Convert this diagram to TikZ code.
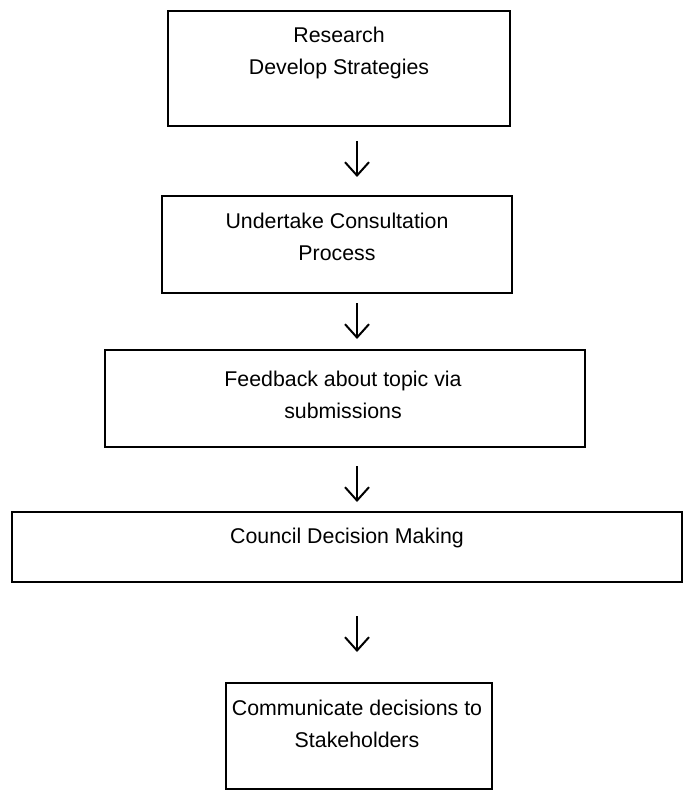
\documentclass[tikz,border=0pt]{standalone}
\usepackage{fontspec}
\setmainfont{Liberation Sans}
\usetikzlibrary{arrows.meta, fit}

\begin{document}
\begin{tikzpicture}[x=0.75pt, y=-0.75pt, line width=1.5pt,
  >={Straight Barb[length=10pt, width=18pt]},
  caja/.style={draw, rectangle, inner sep=0pt},
  texto/.style={align=center, inner sep=0pt, font=\fontsize{16}{24}\selectfont}]
  \useasboundingbox (0,0) rectangle (692,791);
  % cajas del proceso
  \node[caja, fit={(168,11) (510,126)}] (b1) {};
  \node[caja, fit={(162,196) (512,293)}] (b2) {};
  \node[caja, fit={(105,350) (585,447)}] (b3) {};
  \node[caja, fit={(12,512) (682,582)}] (b4) {};
  \node[caja, fit={(226,683) (492,789)}] (b5) {};
  % textos
  \node[texto] (t1) at (339,53) {Research\\Develop Strategies};
  \node[texto] (t2) at (337,237) {Undertake Consultation\\Process};
  \node[texto] (t3) at (343,395) {Feedback about topic via\\submissions};
  \node[texto] (t4) at (347,538) {Council Decision Making};
  \node[texto] (t5) at (357,724) {Communicate decisions to\\Stakeholders};
  % flechas entre cajas
  \coordinate (eje) at (357,0);
  \foreach \a/\b/\s/\e in {b1/b2/14/18, b2/b3/9/10, b3/b4/18/9, b4/b5/33/30}
    \draw[->, shorten <=\s*0.75pt, shorten >=\e*0.75pt] (\a.south -| eje) -- (\b.north -| eje);
\end{tikzpicture}
\end{document}
